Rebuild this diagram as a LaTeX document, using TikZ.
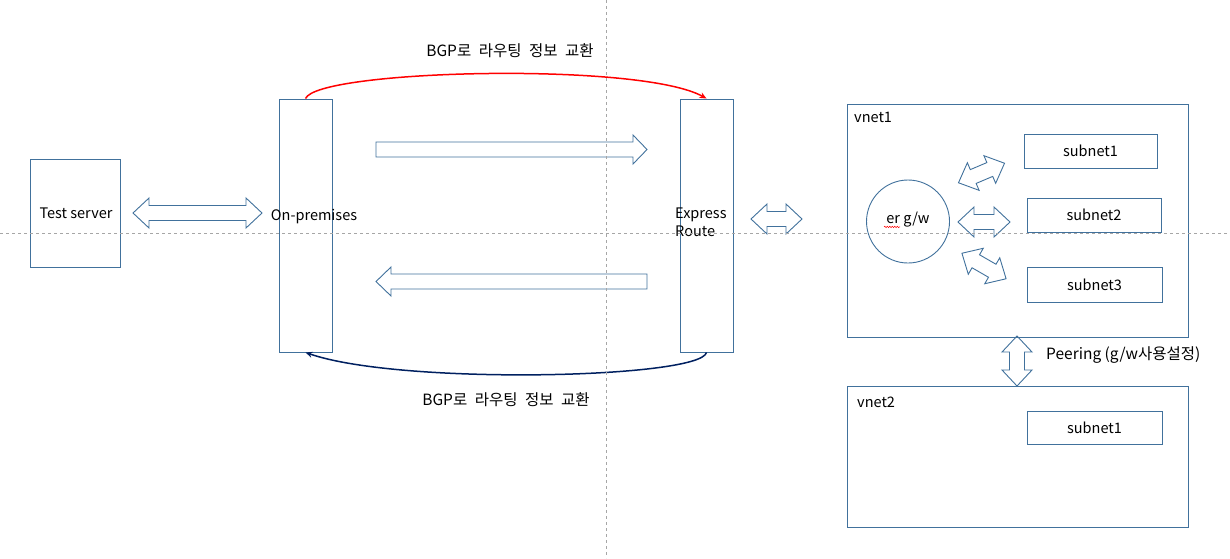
\documentclass[tikz,border=0pt]{standalone}
\usepackage{fontspec}
\setmainfont{Noto Sans CJK KR}
\usetikzlibrary{arrows.meta,decorations.pathmorphing}
\definecolor{boxc}{HTML}{41719C}
\definecolor{navyc}{HTML}{002060}
\definecolor{gridc}{HTML}{A6A6A6}
\newcommand\blockdbl[4]{%
  \draw[blk, shift={(#1,#2)}, rotate=#3]
    ({-#4/2},0) -- ({-#4/2+16},-15) -- ({-#4/2+16},-7.5) -- ({#4/2-16},-7.5)
    -- ({#4/2-16},-15) -- ({#4/2},0) -- ({#4/2-16},15) -- ({#4/2-16},7.5)
    -- ({-#4/2+16},7.5) -- ({-#4/2+16},15) -- cycle;}
\newcommand\ksp{\hspace{7.5pt}}
\begin{document}
\begin{tikzpicture}[x=1pt,y=-1pt,
  font=\fontsize{14.5}{17}\selectfont,
  box/.style={draw=boxc, line width=0.9pt, inner sep=0pt},
  blk/.style={draw=boxc, line width=0.9pt, line join=miter},
  txt/.style={inner sep=0pt, text=black},
  kor/.style={txt, font=\fontsize{15.5}{18}\selectfont},
  gridline/.style={draw=gridc, line width=0.8pt, dash pattern=on 3pt off 3pt}]
\useasboundingbox (0,0) rectangle (1230,558);

% boxes
\node[box, minimum width=90pt, minimum height=108pt] (ts) at (75,213) {};
\node[box, minimum width=53pt, minimum height=253pt] (op) at (305.5,225.5) {};
\node[box, minimum width=53pt, minimum height=253pt] (er) at (706.5,225.5) {};
\node[box, minimum width=341pt, minimum height=233pt] (vnet1) at (1017.5,220.5) {};
\node[box, minimum width=341pt, minimum height=141pt] (vnet2) at (1017.5,456.5) {};
\node[box, circle, minimum size=83pt] (gw) at (908,221.5) {};
\node[box, minimum width=133pt, minimum height=34pt] (s1) at (1090.5,151) {subnet1};
\node[box, minimum width=134pt, minimum height=34pt] (s2) at (1094,215) {subnet2};
\node[box, minimum width=135pt, minimum height=35pt] (s3) at (1094.5,284.5) {subnet3};
\node[box, minimum width=135pt, minimum height=33pt] (v2s1) at (1094.5,427.5) {subnet1};

% texts
\node[txt] (tslbl) at (76,213) {Test server};
\node[txt] (oplbl) at (314,217) {On-premises};
\node[txt, align=left, anchor=west] (erlbl) at (675,222.5) {Express\\[1.5pt]Route};
\node[txt] (gwlbl) at (908,220) {er g/w};
\node[txt, anchor=west] (v1lbl) at (854,117) {vnet1};
\node[txt, anchor=west] (v2lbl) at (857,402) {vnet2};
\node[kor, anchor=west] (peerlbl) at (1046,355) {Peering (g/w사용설정)};
\node[kor] (bgp1) at (510,51) {BGP로\ksp 라우팅\ksp 정보\ksp 교환};
\node[kor] (bgp2) at (506,400) {BGP로\ksp 라우팅\ksp 정보\ksp 교환};
\draw[red, line width=0.5pt, decorate, decoration={snake, amplitude=0.7pt, segment length=2.5pt}]
  ([xshift=-24pt,yshift=-3pt]gwlbl.base) -- ([xshift=-8pt,yshift=-3pt]gwlbl.base);

% BGP curves
\draw[red, line width=1.5pt, -{Stealth[length=7pt,width=6pt]}]
  (op.north) .. controls +(12,-29) and +(-66,-37) .. (er.north);
\draw[navyc, line width=1.5pt, -{Stealth[length=7pt,width=6pt]}]
  (er.south) .. controls +(-6,26) and +(95,33) .. (op.south);

% single block arrows
\draw[blk] (376,142) -- (633,142) -- (633,135) -- (647,149.5) -- (633,164) -- (633,157) -- (376,157) -- cycle;
\draw[blk] (647,274) -- (391,274) -- (391,267) -- (376,281.5) -- (391,296) -- (391,289) -- (647,289) -- cycle;

% double block arrows
\blockdbl{197.5}{213}{0}{129}
\blockdbl{776.5}{219}{0}{51}
\blockdbl{984}{222}{0}{52}
\blockdbl{981.5}{173}{23}{50}
\blockdbl{984}{266}{-30}{51}
\blockdbl{1017}{361}{90}{50}

% guide lines
\draw[gridline] (0,233) -- (1230,233);
\draw[gridline] (606,0) -- (606,558);
\end{tikzpicture}
\end{document}
